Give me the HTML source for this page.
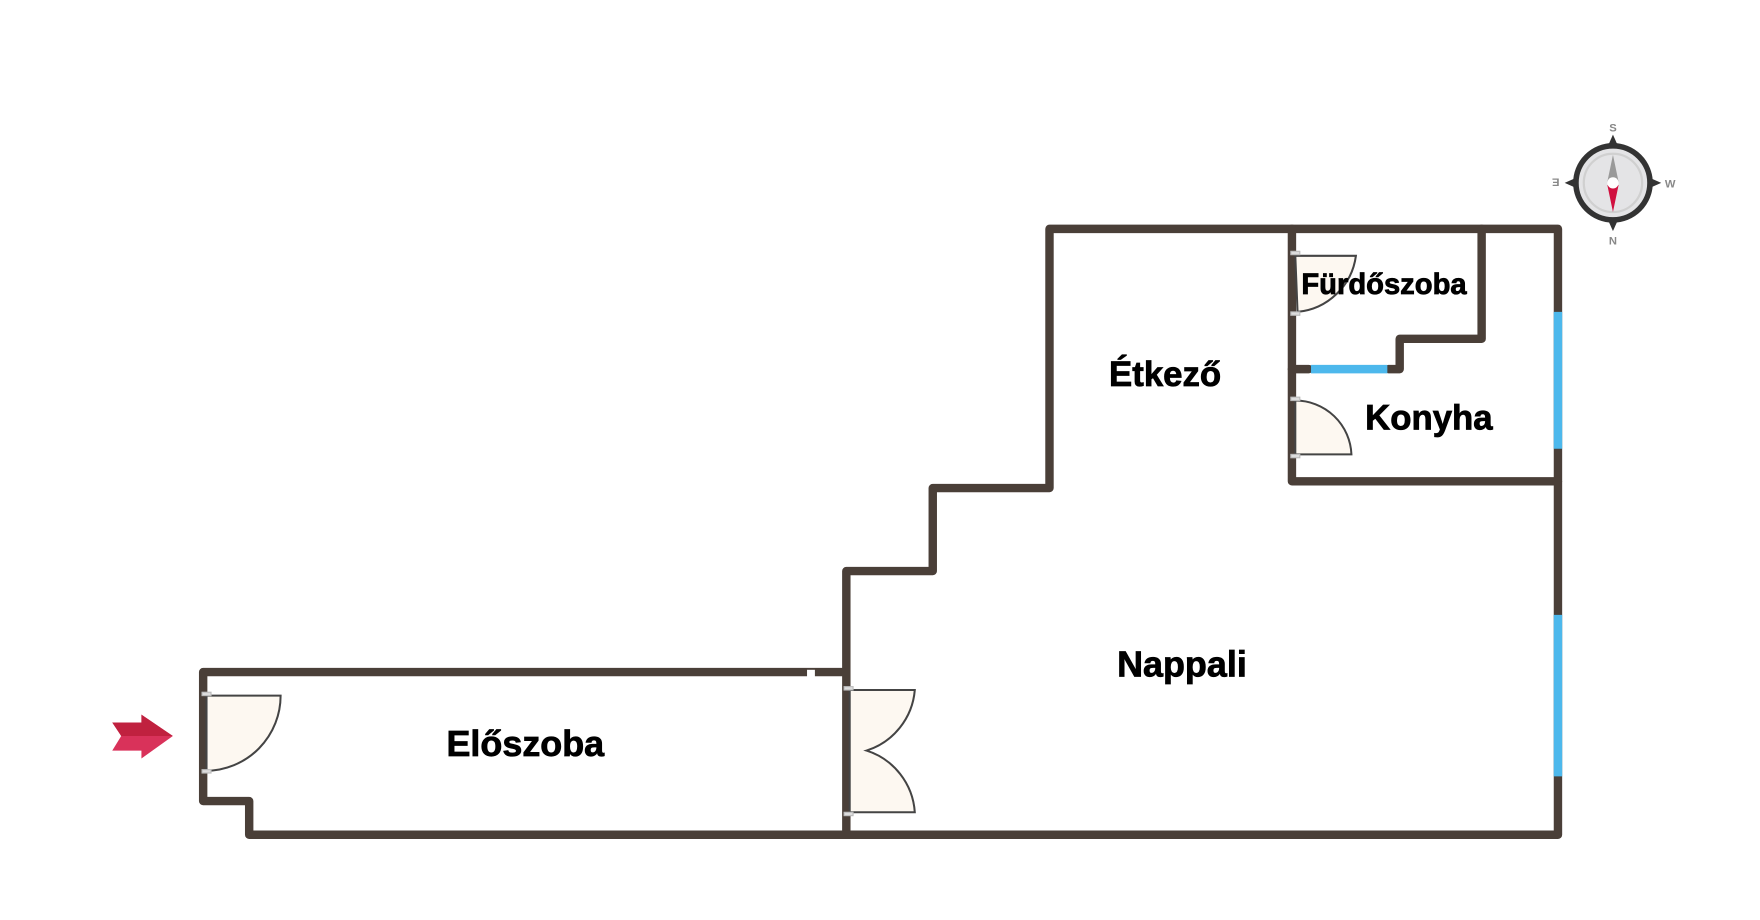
<!DOCTYPE html>
<html><head><meta charset="utf-8"><style>
html,body{margin:0;padding:0;background:#fff;}
svg{display:block;}
text{font-family:"Liberation Sans",sans-serif;font-weight:bold;fill:#000;}
.lb{stroke:#000;stroke-width:0.7;}
</style></head><body>
<svg width="1760" height="920" viewBox="0 0 1568 820" preserveAspectRatio="none" xmlns="http://www.w3.org/2000/svg">
<g fill="none" stroke="#4a3f38" stroke-width="7.5" stroke-linejoin="round" stroke-linecap="round">
<path d="M751,599 L181,599 L181,714 L222,714 L222,744 L1388,744 L1388,204 L935,204 L935,435 L831,435 L831,509 L754,509 L754,744"/>
<path d="M1151,204 L1151,429 L1388,429"/>
<path d="M1320,204 L1320,302 L1247,302 L1247,329 L1237,329"/>
<path d="M1151,329 L1166,329"/>
</g>
<rect x="719" y="597" width="7" height="6" fill="#fff"/>
<g stroke="#4db8ec" stroke-width="7.5">
<line x1="1168" y1="329" x2="1236" y2="329"/>
<line x1="1388" y1="278" x2="1388" y2="400"/>
<line x1="1388" y1="548" x2="1388" y2="692"/>
</g>
<g fill="#fdf8f1" stroke="#444" stroke-width="1.8">
<path d="M184,620 L250,620 A67,67 0 0 1 184,687 Z"/>
<path d="M757,615 L815,615 A62,62 0 0 1 772,669 A62,62 0 0 1 815,724 L757,724 Z"/>
<path d="M1154,228 L1208,228 A58,58 0 0 1 1156,278 Z"/>
<path d="M1154,357 A50,50 0 0 1 1204,405 L1154,405 Z"/>
</g>
<g fill="#ddd" stroke="#bbb" stroke-width="1">
<rect x="180" y="617" width="8" height="3"/><rect x="180" y="686" width="8" height="3"/>
<rect x="752" y="612" width="8" height="3"/><rect x="752" y="724" width="8" height="3"/>
<rect x="1150" y="224" width="8" height="3"/><rect x="1150" y="278" width="8" height="3"/>
<rect x="1150" y="354" width="8" height="3"/><rect x="1150" y="405" width="8" height="3"/>
</g>
<text class="lb" x="1038" y="344" font-size="31" text-anchor="middle">Étkező</text>
<text class="lb" x="1273" y="383" font-size="31" text-anchor="middle">Konyha</text>
<text class="lb" x="1233" y="262" font-size="26" text-anchor="middle">Fürdőszoba</text>
<text class="lb" x="1053" y="603" font-size="32" text-anchor="middle">Nappali</text>
<text class="lb" x="468" y="674" font-size="32" text-anchor="middle">Előszoba</text>
<path d="M100,644 L126,644 L126,637 L154,656 L126,676 L126,669 L100,669 L108,656 Z" fill="#d9325a"/>
<path d="M100,644 L126,644 L126,637 L154,656 L108,656 Z" fill="#c0213f"/>
<g>
<polygon points="1437,120 1445,138 1429,138" fill="#333"/>
<polygon points="1437,206 1445,188 1429,188" fill="#333"/>
<polygon points="1394,163 1412,155 1412,171" fill="#333"/>
<polygon points="1480,163 1462,155 1462,171" fill="#333"/>
<circle cx="1437" cy="163" r="33" fill="#e4e4e6" stroke="#333" stroke-width="5"/>
<circle cx="1437" cy="163" r="26" fill="none" stroke="#d0d0d0" stroke-width="2"/>
<polygon points="1437,138 1442,162 1432,162" fill="#999"/>
<polygon points="1437,189 1442,165 1432,165" fill="#d0103f"/>
<circle cx="1437" cy="163" r="5" fill="#fff"/>
<text x="1437" y="117" font-size="10" text-anchor="middle" style="fill:#888">S</text>
<text x="1437" y="218" font-size="10" text-anchor="middle" style="fill:#888">N</text>
<text x="1488" y="167" font-size="10" text-anchor="middle" style="fill:#888">W</text>
<text x="1386" y="167" font-size="10" text-anchor="middle" style="fill:#888" transform="rotate(180 1386 163)">E</text>
</g>
</svg>
</body></html>
